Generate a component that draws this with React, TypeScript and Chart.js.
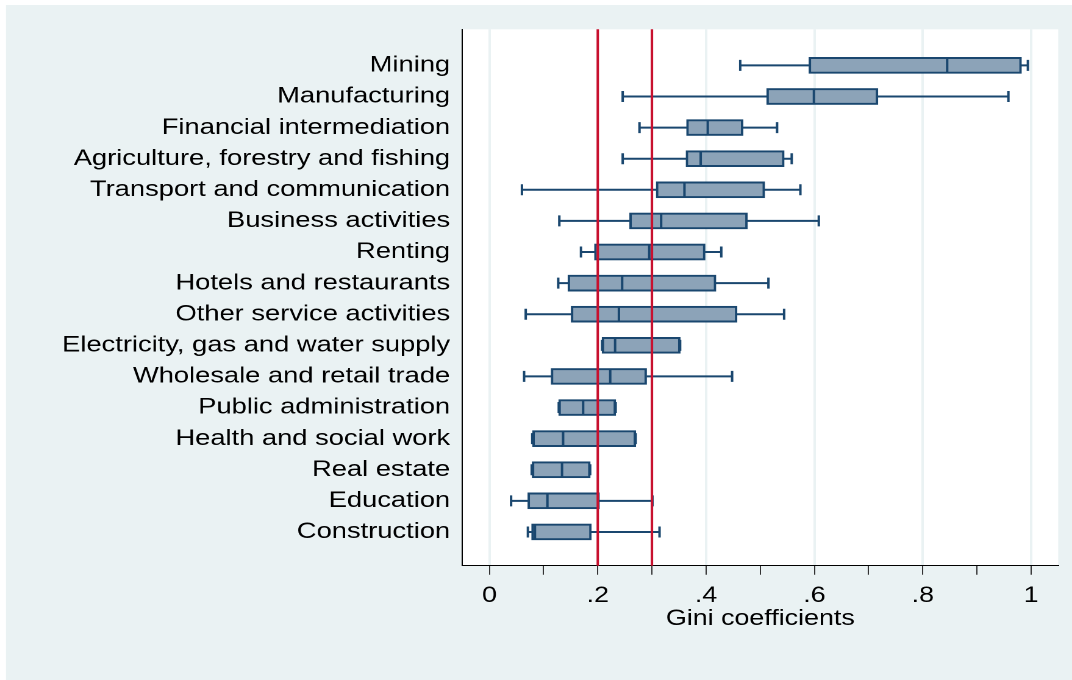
import React, { useEffect, useRef } from "react";
import { Chart, registerables } from "chart.js";

Chart.register(...registerables);

// ---------- data ----------
const categories = [
  "Mining",
  "Manufacturing",
  "Financial intermediation",
  "Agriculture, forestry and fishing",
  "Transport and communication",
  "Business activities",
  "Renting",
  "Hotels and restaurants",
  "Other service activities",
  "Electricity, gas and water supply",
  "Wholesale and retail trade",
  "Public administration",
  "Health and social work",
  "Real estate",
  "Education",
  "Construction",
];

const lowWhisker = [0.463, 0.246, 0.277, 0.246, 0.060, 0.129, 0.169, 0.127, 0.067, 0.208, 0.064, 0.128, 0.079, 0.078, 0.040, 0.071];
const q1Values = [0.590, 0.512, 0.364, 0.363, 0.308, 0.259, 0.194, 0.145, 0.151, 0.208, 0.114, 0.128, 0.080, 0.079, 0.071, 0.078];
const medianValues = [0.845, 0.599, 0.403, 0.390, 0.360, 0.317, 0.295, 0.245, 0.239, 0.232, 0.223, 0.173, 0.136, 0.134, 0.107, 0.084];
const q3Values = [0.982, 0.717, 0.468, 0.544, 0.508, 0.476, 0.398, 0.418, 0.457, 0.352, 0.290, 0.233, 0.270, 0.186, 0.203, 0.188];
const highWhisker = [0.994, 0.958, 0.531, 0.558, 0.574, 0.608, 0.428, 0.515, 0.544, 0.352, 0.448, 0.233, 0.270, 0.186, 0.301, 0.314];

const majorTickValues = [0, 0.2, 0.4, 0.6, 0.8, 1];
const majorTickLabels = ["0", ".2", ".4", ".6", ".8", "1"];
const minorTickValues = [0.1, 0.3, 0.5, 0.7, 0.9];
const referenceLines = [0.2, 0.3];
const xAxisTitle = "Gini coefficients";

// ---------- style ----------
const W = 879;
const H = 680;
const SX = 1072 / W;
const OUTER_BG = "#EAF2F3";
const GRID = "#EAF2F3";
const BOX_FILL = "#8CA3B8";
const BOX_LINE = "#1A476F";
const RED = "#C8102E";
const FONT = "'Liberation Sans', Arial, Helvetica, sans-serif";
const BOX_H = 16;
const CAP_H = 11;

const boxPartsPlugin = {
  id: "boxParts",
  beforeDraw(chart: any) {
    const { ctx, chartArea: a } = chart;
    ctx.save();
    ctx.fillStyle = "#FFFFFF";
    ctx.fillRect(0, 0, chart.width, chart.height);
    ctx.fillStyle = OUTER_BG;
    ctx.fillRect(6 / SX, 5, chart.width, chart.height);
    ctx.fillStyle = "#FFFFFF";
    ctx.fillRect(a.left, a.top, a.right - a.left, a.bottom - a.top);
    ctx.restore();
  },
  beforeDatasetsDraw(chart: any) {
    const { ctx } = chart;
    const xs = chart.scales.x;
    const ys = chart.scales.y;
    ctx.save();
    ctx.strokeStyle = BOX_LINE;
    ctx.lineWidth = 2;
    categories.forEach((_, i) => {
      const cy = ys.getPixelForValue(i);
      const pl = xs.getPixelForValue(lowWhisker[i]);
      const p1 = xs.getPixelForValue(q1Values[i]);
      const p3 = xs.getPixelForValue(q3Values[i]);
      const ph = xs.getPixelForValue(highWhisker[i]);
      ctx.beginPath();
      ctx.moveTo(pl, cy);
      ctx.lineTo(p1, cy);
      ctx.moveTo(p3, cy);
      ctx.lineTo(ph, cy);
      ctx.moveTo(pl, cy - CAP_H / 2);
      ctx.lineTo(pl, cy + CAP_H / 2);
      ctx.moveTo(ph, cy - CAP_H / 2);
      ctx.lineTo(ph, cy + CAP_H / 2);
      ctx.stroke();
    });
    ctx.restore();
  },
  afterDatasetsDraw(chart: any) {
    const { ctx, chartArea: a } = chart;
    const xs = chart.scales.x;
    const ys = chart.scales.y;
    ctx.save();
    ctx.strokeStyle = BOX_LINE;
    ctx.lineWidth = 2;
    categories.forEach((_, i) => {
      const cy = ys.getPixelForValue(i);
      const pm = xs.getPixelForValue(medianValues[i]);
      ctx.beginPath();
      ctx.moveTo(pm, cy - BOX_H / 2 + 1);
      ctx.lineTo(pm, cy + BOX_H / 2 - 1);
      ctx.stroke();
    });
    ctx.strokeStyle = RED;
    ctx.lineWidth = 2;
    referenceLines.forEach((v) => {
      const px = xs.getPixelForValue(v);
      ctx.beginPath();
      ctx.moveTo(px, a.top);
      ctx.lineTo(px, a.bottom);
      ctx.stroke();
    });
    ctx.restore();
  },
};

export default function App() {
  const canvasRef = useRef<HTMLCanvasElement | null>(null);

  useEffect(() => {
    if (!canvasRef.current) return;
    const allTicks = [...majorTickValues, ...minorTickValues].sort((a, b) => a - b);
    const chart = new Chart(canvasRef.current, {
      type: "bar",
      data: {
        datasets: [
          {
            data: categories.map((_, i) => ({ x: [q1Values[i], q3Values[i]], y: i })) as any,
            backgroundColor: BOX_FILL,
            borderColor: BOX_LINE,
            borderWidth: 2,
            borderSkipped: false,
            barThickness: BOX_H,
          },
        ],
      },
      options: {
        indexAxis: "y",
        animation: false,
        responsive: false,
        devicePixelRatio: 2,
        events: [],
        layout: { padding: { left: 0, top: 29.3, right: W - 867.7, bottom: 0 } },
        plugins: { legend: { display: false }, tooltip: { enabled: false } },
        scales: {
          x: {
            type: "linear",
            position: "bottom",
            min: -0.05,
            max: 1.05,
            offset: false,
            afterFit: (scale: any) => {
              scale.height = H - 565.7;
            },
            afterBuildTicks: (scale: any) => {
              scale.ticks = allTicks.map((v) => ({ value: v }));
            },
            ticks: {
              autoSkip: false,
              maxRotation: 0,
              padding: 8,
              color: "#000",
              font: { family: FONT, size: 22 },
              callback: (value: any) => {
                const idx = majorTickValues.indexOf(value);
                return idx >= 0 ? majorTickLabels[idx] : "";
              },
            },
            grid: {
              lineWidth: 2,
              tickLength: 9,
              tickWidth: 1,
              tickColor: "#333",
              offset: false,
              color: (ctx: any) =>
                ctx.tick && majorTickValues.includes(ctx.tick.value) ? GRID : "rgba(0,0,0,0)",
            },
            border: { display: true, color: "#000", width: 1 },
            title: {
              display: true,
              text: xAxisTitle,
              color: "#000",
              font: { family: FONT, size: 22 },
              padding: { top: 0, bottom: 48 },
            },
          },
          y: {
            type: "linear",
            reverse: true,
            min: -1.16,
            max: 16.085,
            offset: false,
            afterFit: (scale: any) => {
              scale.width = 379.1;
            },
            afterBuildTicks: (scale: any) => {
              scale.ticks = categories.map((_, i) => ({ value: i }));
            },
            ticks: {
              autoSkip: false,
              padding: 10,
              color: "#000",
              font: { family: FONT, size: 22.4 },
              callback: (value: any) => categories[value] ?? "",
            },
            grid: { display: false, drawTicks: false, offset: false },
            border: { display: true, color: "#000", width: 1 },
          },
        },
      },
      plugins: [boxPartsPlugin],
    } as any);
    return () => chart.destroy();
  }, []);

  return (
    <div
      style={{
        position: "absolute",
        left: 0,
        top: 0,
        width: 1072,
        height: 680,
        overflow: "hidden",
        background: "#FFFFFF",
      }}
    >
      <canvas
        ref={canvasRef}
        width={W}
        height={H}
        style={{
          display: "block",
          transform: `scaleX(${SX})`,
          transformOrigin: "0 0",
        }}
      />
    </div>
  );
}
